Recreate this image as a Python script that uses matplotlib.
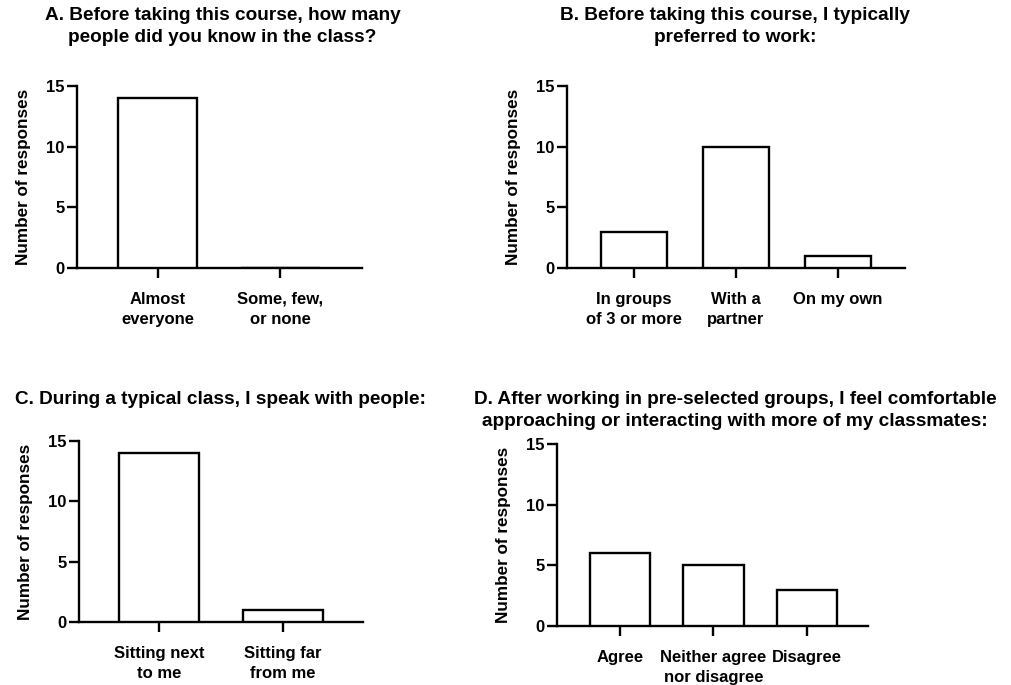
import matplotlib
matplotlib.use("Agg")
import matplotlib.pyplot as plt

plt.rcParams['font.family'] = ['Liberation Sans', 'DejaVu Sans']
plt.rcParams['font.weight'] = 'bold'

# Survey responses, one panel per question
cats_a = ["Almost\neveryone", "Some, few,\nor none"]
vals_a = [14, 0]
title_a = "A. Before taking this course, how many\npeople did you know in the class?"

cats_b = ["In groups\nof 3 or more", "With a\npartner", "On my own"]
vals_b = [3, 10, 1]
title_b = "B. Before taking this course, I typically\npreferred to work:"

cats_c = ["Sitting next\nto me", "Sitting far\nfrom me"]
vals_c = [14, 1]
title_c = "C. During a typical class, I speak with people:"

cats_d = ["Agree", "Neither agree\nnor disagree", "Disagree"]
vals_d = [6, 5, 3]
title_d = "D. After working in pre-selected groups, I feel comfortable\napproaching or interacting with more of my classmates:"

yticks = [0, 5, 10, 15]
ylabel = "Number of responses"

fig = plt.figure(figsize=(10.11, 6.85), dpi=100)

panels = [
    (cats_a, vals_a, title_a, [0.0762, 0.6088, 0.2819, 0.2657], (-0.66, 1.67), (0.220, 0.990)),
    (cats_b, vals_b, title_b, [0.5608, 0.6088, 0.3344, 0.2657], (-0.66, 2.66), (0.727, 0.990)),
    (cats_c, vals_c, title_c, [0.0781, 0.0920, 0.2809, 0.2642], (-0.65, 1.65), (0.218, 0.429)),
    (cats_d, vals_d, title_d, [0.5510, 0.0861, 0.3076, 0.2657], (-0.67, 2.65), (0.727, 0.429)),
]

for cats, vals, title, rect, xlim, tpos in panels:
    ax = fig.add_axes(rect)
    x = list(range(len(cats)))
    ax.bar(x, vals, width=0.645, color='white', edgecolor='black', linewidth=1.7, zorder=3)
    ax.set_xlim(*xlim)
    ax.set_ylim(0, 15)
    ax.set_yticks(yticks)
    ax.set_xticks(x)
    ax.set_xticklabels(cats, fontsize=12, fontweight='bold', linespacing=1.45)
    ax.tick_params(axis='y', labelsize=12, width=1.7, length=7, pad=2)
    ax.tick_params(axis='x', width=1.7, length=7, pad=10)
    for lab in ax.get_yticklabels():
        lab.set_fontweight('bold')
    for s in ('top', 'right'):
        ax.spines[s].set_visible(False)
    for s in ('left', 'bottom'):
        ax.spines[s].set_linewidth(1.7)
    ax.set_ylabel(ylabel, fontsize=12.3, fontweight='bold', labelpad=11)
    fig.text(tpos[0], tpos[1], title, ha='center', va='top', fontsize=13.7,
             fontweight='bold', linespacing=1.38)

fig.savefig("out.png", dpi=100)
